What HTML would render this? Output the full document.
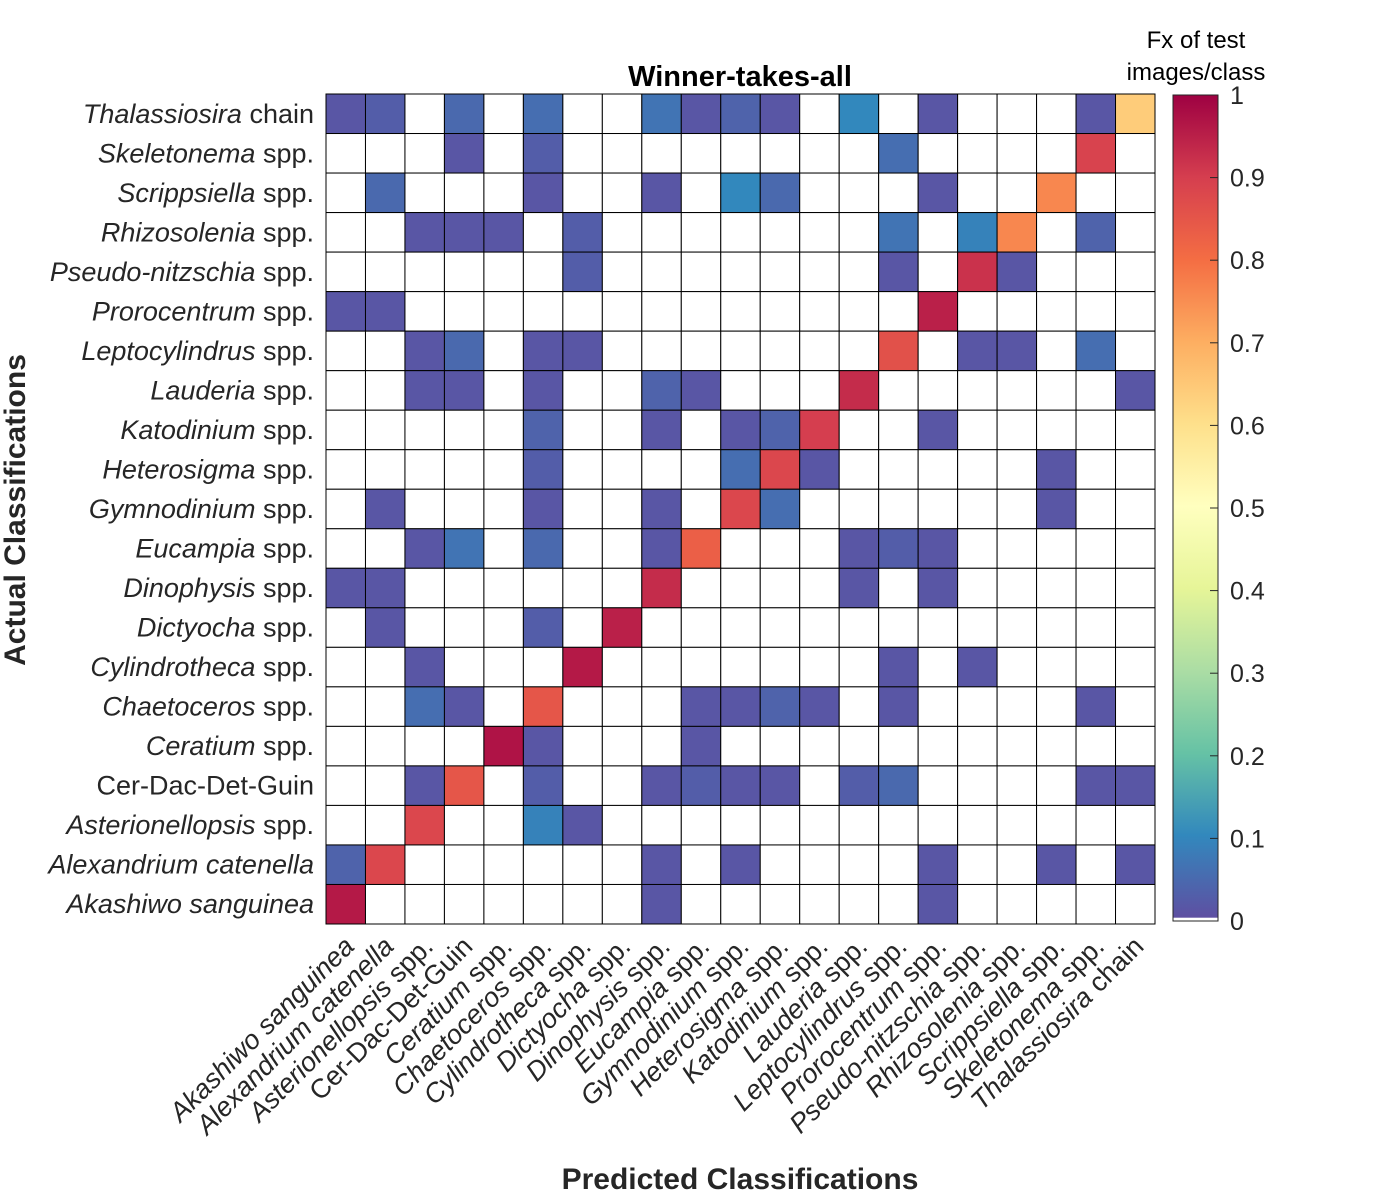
<!DOCTYPE html>
<html><head><meta charset="utf-8"><style>
html,body{margin:0;padding:0;background:#fff;}
svg{display:block;font-family:"Liberation Sans",Arial,sans-serif;}
</style></head><body>
<svg id="chart" width="1400" height="1200" viewBox="0 0 1400 1200" xmlns="http://www.w3.org/2000/svg">
<defs>
<linearGradient id="cbgrad" x1="0" y1="1" x2="0" y2="0">
<stop offset="0" stop-color="#5e4fa2"/><stop offset="0.1" stop-color="#3288bd"/><stop offset="0.2" stop-color="#66c2a5"/><stop offset="0.3" stop-color="#abdda4"/><stop offset="0.4" stop-color="#e6f598"/><stop offset="0.5" stop-color="#ffffbf"/><stop offset="0.6" stop-color="#fee08b"/><stop offset="0.7" stop-color="#fdae61"/><stop offset="0.8" stop-color="#f46d43"/><stop offset="0.9" stop-color="#d53e4f"/><stop offset="1" stop-color="#9e0142"/>
</linearGradient>
</defs>
<text x="740" y="86" text-anchor="middle" font-size="29" font-weight="bold" fill="#000">Winner-takes-all</text>
<text transform="translate(25,510) rotate(-90)" text-anchor="middle" font-size="30" font-weight="bold" fill="#262626">Actual Classifications</text>
<text x="740" y="1189" text-anchor="middle" font-size="30" font-weight="bold" fill="#262626">Predicted Classifications</text>
<text x="1196" y="48" text-anchor="middle" font-size="24" fill="#000"><tspan x="1196">Fx of test</tspan><tspan x="1196" dy="32">images/class</tspan></text>
<g id="cells"></g>
<g id="ylabels"></g>
<g id="xlabels"></g>
<g id="colorbar"></g>
</svg>
<script>
const classGenus = ["Akashiwo sanguinea","Alexandrium catenella","Asterionellopsis","Cer-Dac-Det-Guin","Ceratium","Chaetoceros","Cylindrotheca","Dictyocha","Dinophysis","Eucampia","Gymnodinium","Heterosigma","Katodinium","Lauderia","Leptocylindrus","Prorocentrum","Pseudo-nitzschia","Rhizosolenia","Scrippsiella","Skeletonema","Thalassiosira"];
const classSuffix = [""," ", " spp.","", " spp."," spp."," spp."," spp."," spp."," spp."," spp."," spp."," spp."," spp."," spp."," spp."," spp."," spp."," spp."," spp."," chain"];
const classItalic = [true,true,true,false,true,true,true,true,true,true,true,true,true,true,true,true,true,true,true,true,true];
// rows listed top to bottom (Thalassiosira chain first ... Akashiwo last); columns in classGenus order
const rowClassIndex = [20,19,18,17,16,15,14,13,12,11,10,9,8,7,6,5,4,3,2,1,0];
const matrixRows = [
 [0.012,0.025,0,0.045,0,0.055,0,0,0.065,0.012,0.035,0.012,0,0.1,0,0.012,0,0,0,0.012,0.64],
 [0,0,0,0.012,0,0.025,0,0,0,0,0,0,0,0,0.055,0,0,0,0,0.89,0],
 [0,0.045,0,0,0,0.012,0,0,0.012,0,0.1,0.045,0,0,0,0.012,0,0,0.76,0,0],
 [0,0,0.012,0.012,0.012,0,0.025,0,0,0,0,0,0,0,0.065,0,0.09,0.76,0,0.035,0],
 [0,0,0,0,0,0,0.025,0,0,0,0,0,0,0,0.012,0,0.92,0.012,0,0,0],
 [0.012,0.012,0,0,0,0,0,0,0,0,0,0,0,0,0,0.95,0,0,0,0,0],
 [0,0,0.012,0.045,0,0.012,0.012,0,0,0,0,0,0,0,0.86,0,0.012,0.012,0,0.055,0],
 [0,0,0.012,0.012,0,0.012,0,0,0.035,0.012,0,0,0,0.93,0,0,0,0,0,0,0.012],
 [0,0,0,0,0,0.035,0,0,0.012,0,0.012,0.035,0.9,0,0,0.012,0,0,0,0,0],
 [0,0,0,0,0,0.025,0,0,0,0,0.055,0.88,0.012,0,0,0,0,0,0.012,0,0],
 [0,0.012,0,0,0,0.012,0,0,0.012,0,0.88,0.055,0,0,0,0,0,0,0.012,0,0],
 [0,0,0.012,0.065,0,0.045,0,0,0.012,0.83,0,0,0,0.012,0.025,0.012,0,0,0,0,0],
 [0.012,0.012,0,0,0,0,0,0,0.93,0,0,0,0,0.012,0,0.012,0,0,0,0,0],
 [0,0.012,0,0,0,0.025,0,0.95,0,0,0,0,0,0,0,0,0,0,0,0,0],
 [0,0,0.012,0,0,0,0.96,0,0,0,0,0,0,0,0.012,0,0.012,0,0,0,0],
 [0,0,0.055,0.012,0,0.85,0,0,0,0.012,0.012,0.035,0.012,0,0.012,0,0,0,0,0.012,0],
 [0,0,0,0,0.97,0.012,0,0,0,0.012,0,0,0,0,0,0,0,0,0,0,0],
 [0,0,0.012,0.85,0,0.025,0,0,0.012,0.025,0.012,0.012,0,0.025,0.045,0,0,0,0,0.012,0.012],
 [0,0,0.88,0,0,0.09,0.012,0,0,0,0,0,0,0,0,0,0,0,0,0,0],
 [0.035,0.88,0,0,0,0,0,0,0.012,0,0.012,0,0,0,0,0.012,0,0,0.012,0,0.012],
 [0.96,0,0,0,0,0,0,0,0.012,0,0,0,0,0,0,0.012,0,0,0,0,0]
];
const cbTicks = [0,0.1,0.2,0.3,0.4,0.5,0.6,0.7,0.8,0.9,1];

const NS="http://www.w3.org/2000/svg";
const L=326,R=1155,T=94,B=924;
const n=classGenus.length, cw=(R-L)/n, ch=(B-T)/n;
const xCell=i=>L+i*cw, yCell=r=>T+r*ch;
const CB={x:1173,w:45,top:95,bot:921};
const cbY=v=>CB.bot-v*(CB.bot-CB.top);
const stops=["#5e4fa2","#3288bd","#66c2a5","#abdda4","#e6f598","#ffffbf","#fee08b","#fdae61","#f46d43","#d53e4f","#9e0142"];
function hex(h){return [1,3,5].map(i=>parseInt(h.substr(i,2),16));}
function cmap(v){if(v<=0)return "#ffffff";v=Math.min(1,v);const p=v*10,i=Math.min(9,Math.floor(p)),f=p-i;const a=hex(stops[i]),b=hex(stops[i+1]);return "rgb("+a.map((c,k)=>Math.round(c+(b[k]-c)*f)).join(",")+")";}
function mk(tag,attrs,parent){const e=document.createElementNS(NS,tag);for(const k in attrs)e.setAttribute(k,attrs[k]);parent.appendChild(e);return e;}

const cells=document.getElementById('cells');
matrixRows.forEach((row,r)=>{row.forEach((v,c)=>{
  const e=mk('rect',{x:xCell(c),y:yCell(r),width:cw,height:ch,fill:cmap(v),stroke:"#000","stroke-width":1},cells);
  
  
});});

function labelInto(t,i){
  const a=document.createElementNS(NS,'tspan');a.textContent=classGenus[i];if(classItalic[i])a.setAttribute('font-style','italic');t.appendChild(a);
  if(classSuffix[i].trim()){const b=document.createElementNS(NS,'tspan');b.textContent=classSuffix[i];t.appendChild(b);}
}
const yl=document.getElementById('ylabels');
rowClassIndex.forEach((ci,r)=>{
  const t=mk('text',{x:314,y:yCell(r)+ch/2+9,"text-anchor":"end","font-size":27,fill:"#262626"},yl);
  
  
  labelInto(t,ci);
});
const xl=document.getElementById('xlabels');
classGenus.forEach((g,i)=>{
  const cx=xCell(i)+cw/2+10,cy=B+24;
  const t=mk('text',{x:cx,y:cy,"text-anchor":"end","font-size":27,fill:"#262626",transform:"rotate(-45 "+cx+" "+cy+")"},xl);
  
  
  labelInto(t,i);
});
const cb=document.getElementById('colorbar');
const g1=mk('rect',{x:CB.x,y:CB.top,width:CB.w,height:cbY(0.004)-CB.top,fill:"url(#cbgrad)"},cb);


const g2=mk('rect',{x:CB.x,y:CB.top,width:CB.w,height:CB.bot-CB.top,fill:"none",stroke:"#262626","stroke-width":1},cb);


cbTicks.forEach(v=>{
  const y=cbY(v);
  const tk=mk('line',{x1:CB.x+CB.w-8,x2:CB.x+CB.w,y1:y,y2:y,stroke:"#262626","stroke-width":1},cb);
  
  
  const t=mk('text',{x:1230,y:y+9,"font-size":25,fill:"#262626"},cb);
  t.textContent=String(v);
  
  
});
</script>
</body></html>
